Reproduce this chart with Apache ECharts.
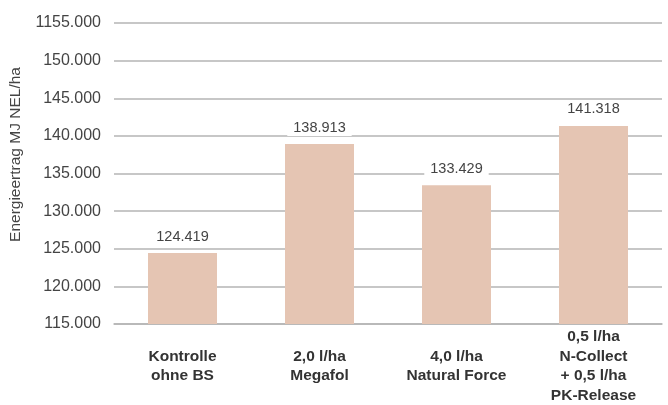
<!DOCTYPE html>
<html><head><meta charset="utf-8">
<script src="https://cdn.jsdelivr.net/npm/echarts@6/dist/echarts.min.js"></script>
<style>html,body{margin:0;padding:0;background:#fff}#c{width:668px;height:405px}</style>
</head><body><div id="c"></div>
<script>
const categories = ["Kontrolle\nohne BS", "2,0 l/ha\nMegafol", "4,0 l/ha\nNatural Force", "0,5 l/ha\nN-Collect\n+ 0,5 l/ha\nPK-Release"];
const values = [124.419, 138.913, 133.429, 141.318];
const tickLabels = {115:"115.000",120:"120.000",125:"125.000",130:"130.000",135:"135.000",140:"140.000",145:"145.000",150:"150.000",155:"1155.000"};
const axisName = "Energieertrag MJ NEL/ha";

const chart = echarts.init(document.getElementById('c'), null, {renderer:'canvas'});
const font = "'Liberation Sans', Arial, sans-serif";
chart.setOption({
  animation:false,
  grid:{left:110,right:6,top:23,bottom:80},
  xAxis:{type:'category',data:categories,
    axisLine:{show:true,lineStyle:{color:'#b5b5b5',width:1.5}},
    axisTick:{show:false},
    axisLabel:{interval:0,fontFamily:font,fontSize:15.5,fontWeight:'bold',color:'#333',lineHeight:19.5,verticalAlign:'middle',margin:42}},
  yAxis:{type:'value',min:115,max:155,interval:5,
    name:axisName,nameLocation:'middle',nameGap:90,nameRotate:90,
    nameTextStyle:{fontFamily:font,fontSize:15.5,color:'#444',padding:[0,0,0,38]},
    axisLine:{show:false},axisTick:{show:false},
    axisLabel:{fontFamily:font,fontSize:16,color:'#444',margin:13,formatter:v=>tickLabels[v]||''},
    splitLine:{lineStyle:{color:'#b5b5b5',width:1.5}}},
  series:[{type:'bar',data:values,barWidth:69,itemStyle:{color:'#e5c5b3'},
    label:{show:true,position:'top',distance:8,fontFamily:font,fontSize:14.5,color:'#444',
      backgroundColor:'#fff',padding:[1,6],formatter:p=>p.value.toFixed(3)}}]
});
</script></body></html>
